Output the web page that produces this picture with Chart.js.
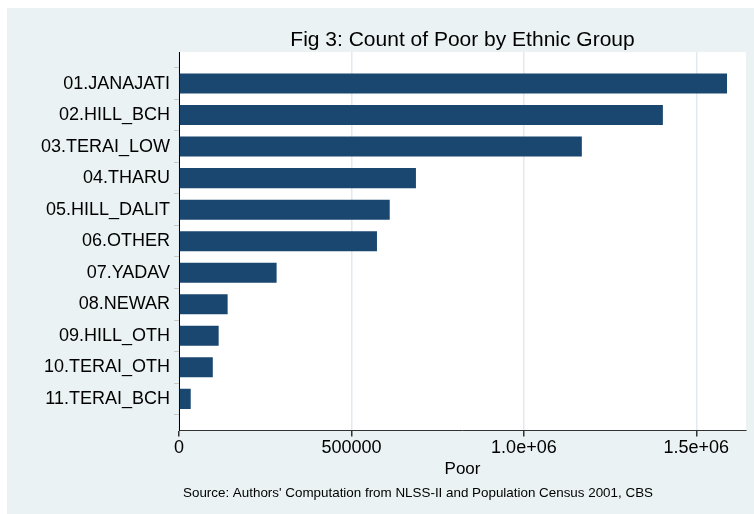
<!DOCTYPE html>
<html>
<head>
<meta charset="utf-8">
<script src="https://cdn.jsdelivr.net/npm/chart.js@4"></script>
<style>
  html, body { margin: 0; padding: 0; background: #fff; overflow: hidden; }
  #wrap { width: 754px; height: 514px; }
  canvas { display: block; }
</style>
</head>
<body>
<div id="wrap"><canvas id="poorChart" width="754" height="514"></canvas></div>
<script>
// Chart data
const categories = ['01.JANAJATI', '02.HILL_BCH', '03.TERAI_LOW', '04.THARU', '05.HILL_DALIT',
    '06.OTHER', '07.YADAV', '08.NEWAR', '09.HILL_OTH', '10.TERAI_OTH', '11.TERAI_BCH'];
const poorCounts = [1589000, 1403000, 1168000, 687000, 611000, 574000, 283000, 141000, 115000, 98000, 34000];
const xTickValues = [0, 500000, 1000000, 1500000];
const xTickLabels = ['0', '500000', '1.0e+06', '1.5e+06'];

const titleText = 'Fig 3: Count of Poor by Ethnic Group';
const noteText = "Source: Authors' Computation from NLSS-II and Population Census 2001, CBS";

const FONT = "'Liberation Sans', Arial, sans-serif";

// Stata-like backgrounds + title and note
const stataFrame = {
    id: 'stataFrame',
    beforeDraw(chart) {
        const { ctx, chartArea } = chart;
        ctx.save();
        ctx.fillStyle = '#ffffff';
        ctx.fillRect(0, 0, chart.width, chart.height);
        ctx.fillStyle = '#eaf2f3';
        ctx.fillRect(7, 8, chart.width - 7, chart.height - 8);
        ctx.fillStyle = '#ffffff';
        ctx.fillRect(chartArea.left, chartArea.top, chartArea.right - chartArea.left, chartArea.bottom - chartArea.top);
        ctx.restore();
    },
    afterDraw(chart) {
        const { ctx, chartArea } = chart;
        ctx.save();
        ctx.fillStyle = '#000';
        ctx.textBaseline = 'middle';
        ctx.textAlign = 'center';
        ctx.font = '21px ' + FONT;
        ctx.fillText(titleText, (chartArea.left + chartArea.right) / 2, 40);
        ctx.textAlign = 'left';
        ctx.font = '13.4px ' + FONT;
        ctx.fillText(noteText, 183, 493);
        ctx.restore();
    }
};

const ctx = document.getElementById('poorChart').getContext('2d');
new Chart(ctx, {
    type: 'bar',
    data: {
        datasets: [{
            label: 'Poor',
            data: poorCounts.map((v, i) => ({ x: v, y: i })),
            backgroundColor: '#1a476f',
            borderColor: '#1a476f',
            borderWidth: 0,
            barPercentage: 0.635,
            categoryPercentage: 1
        }]
    },
    options: {
        indexAxis: 'y',
        responsive: false,
        animation: false,
        layout: { padding: { top: 52, right: 8, left: 0, bottom: 32 } },
        plugins: {
            legend: { display: false },
            tooltip: { enabled: false }
        },
        scales: {
            x: {
                type: 'linear',
                min: 0,
                max: 1644000,
                afterBuildTicks: (scale) => { scale.ticks = xTickValues.map(v => ({ value: v })); },
                ticks: {
                    padding: 1,
                    color: '#000',
                    font: { family: FONT, size: 18 },
                    maxRotation: 0,
                    callback: (value) => xTickLabels[xTickValues.indexOf(value)]
                },
                grid: { color: '#e1eaee', lineWidth: 1.5, tickColor: '#333', tickLength: 6 },
                border: { color: '#333', width: 1 },
                title: {
                    display: true,
                    text: 'Poor',
                    color: '#000',
                    font: { family: FONT, size: 17, lineHeight: 1 },
                    padding: { top: 1, bottom: 4 }
                }
            },
            y: {
                type: 'linear',
                reverse: true,
                offset: false,
                min: -1,
                max: 11,
                afterBuildTicks: (scale) => { scale.ticks = categories.map((c, i) => ({ value: i })); },
                afterFit: (scale) => { scale.width = 179; },
                ticks: {
                    padding: 4,
                    color: '#000',
                    font: { family: FONT, size: 18 },
                    callback: (value) => categories[value]
                },
                grid: { drawOnChartArea: false, tickColor: '#c8c8c8', tickLength: 5 },
                border: { color: '#000', width: 1 }
            }
        }
    },
    plugins: [stataFrame]
});
</script>
</body>
</html>
